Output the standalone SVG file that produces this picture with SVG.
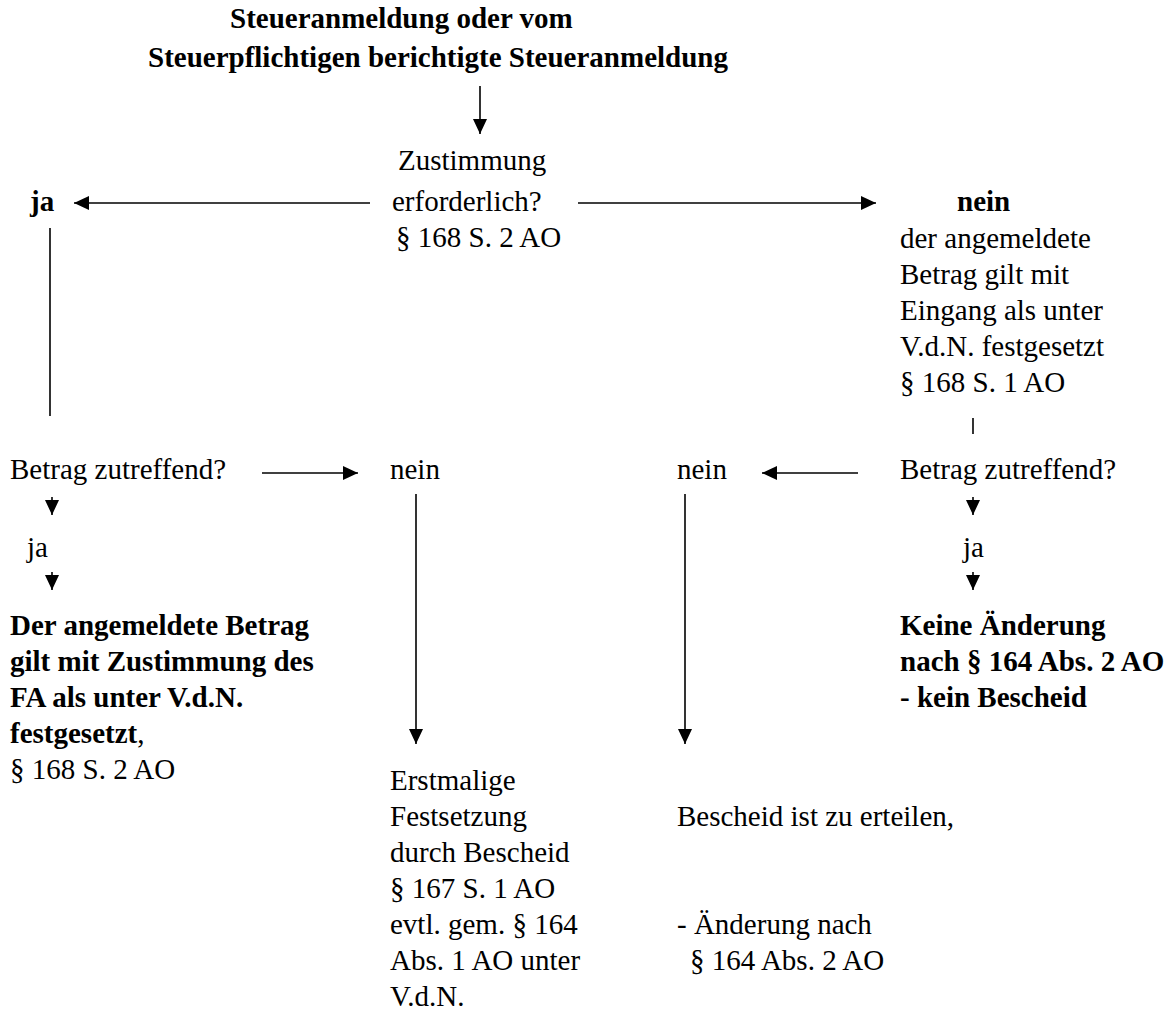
<svg xmlns="http://www.w3.org/2000/svg" width="1171" height="1025" viewBox="0 0 1171 1025">
<style>
text{font-family:"Liberation Serif","Times New Roman",serif;font-size:29px;fill:#000}
.b{font-weight:bold}
.c line,.c path{stroke:#000;stroke-width:1.6;fill:none}
</style>
<defs>
<marker id="ah" markerUnits="userSpaceOnUse" markerWidth="16" markerHeight="14" refX="15" refY="7" orient="auto">
<path d="M0,0 L15,7 L0,14 Z" fill="#000"/>
</marker>
</defs>
<rect width="1171" height="1025" fill="#fff"/>
<g class="c" id="connectors">
<line x1="480" y1="86" x2="480" y2="134" marker-end="url(#ah)"/>
<line x1="370" y1="203" x2="74" y2="203" marker-end="url(#ah)"/>
<line x1="578" y1="203" x2="876" y2="203" marker-end="url(#ah)"/>
<line x1="50" y1="228" x2="50" y2="416"/>
<line x1="973" y1="418" x2="973" y2="434"/>
<line x1="262" y1="473" x2="358" y2="473" marker-end="url(#ah)"/>
<line x1="858" y1="473" x2="762" y2="473" marker-end="url(#ah)"/>
<line x1="52" y1="497" x2="52" y2="515" marker-end="url(#ah)"/>
<line x1="52" y1="572" x2="52" y2="590" marker-end="url(#ah)"/>
<line x1="973" y1="497" x2="973" y2="515" marker-end="url(#ah)"/>
<line x1="973" y1="572" x2="973" y2="590" marker-end="url(#ah)"/>
<line x1="416" y1="494" x2="416" y2="744" marker-end="url(#ah)"/>
<line x1="685" y1="494" x2="685" y2="744" marker-end="url(#ah)"/>
</g>
<g id="title"><text class="b" x="230" y="28">Steueranmeldung oder vom</text><text class="b" x="148" y="67">Steuerpflichtigen berichtigte Steueranmeldung</text></g>
<g id="zustimmung"><text x="398" y="170">Zustimmung</text><text x="392" y="211">erforderlich?</text><text x="396" y="247">§ 168 S. 2 AO</text></g>
<g id="ja-top"><text class="b" x="30" y="211">ja</text></g>
<g id="nein-top"><text class="b" x="957" y="211">nein</text><text x="900" y="248">der angemeldete</text><text x="900" y="284">Betrag gilt mit</text><text x="900" y="320">Eingang als unter</text><text x="900" y="356">V.d.N. festgesetzt</text><text x="900" y="392">§ 168 S. 1 AO</text></g>
<g id="betrag-left"><text x="10" y="479">Betrag zutreffend?</text></g>
<g id="nein-left"><text x="390" y="479">nein</text></g>
<g id="nein-right"><text x="677" y="479">nein</text></g>
<g id="betrag-right"><text x="900" y="479">Betrag zutreffend?</text></g>
<g id="ja-left"><text x="27" y="557">ja</text></g>
<g id="ja-right"><text x="963" y="557">ja</text></g>
<g id="result-left"><text class="b" x="10" y="635">Der angemeldete Betrag</text><text class="b" x="10" y="671">gilt mit Zustimmung des</text><text class="b" x="10" y="707">FA als unter V.d.N.</text><text x="10" y="743"><tspan class="b">festgesetzt</tspan>,</text><text x="10" y="779">§ 168 S. 2 AO</text></g>
<g id="result-right"><text class="b" x="900" y="635">Keine Änderung</text><text class="b" x="900" y="671">nach § 164 Abs. 2 AO</text><text class="b" x="900" y="707">- kein Bescheid</text></g>
<g id="erstmalig"><text x="390" y="790">Erstmalige</text><text x="390" y="826">Festsetzung</text><text x="390" y="862">durch Bescheid</text><text x="390" y="898">§ 167 S. 1 AO</text><text x="390" y="934">evtl. gem. § 164</text><text x="390" y="970">Abs. 1 AO unter</text><text x="390" y="1006">V.d.N.</text></g>
<g id="bescheid"><text x="677" y="826">Bescheid ist zu erteilen,</text><text x="677" y="934">- Änderung nach</text><text x="690" y="970">§ 164 Abs. 2 AO</text></g>
</svg>
